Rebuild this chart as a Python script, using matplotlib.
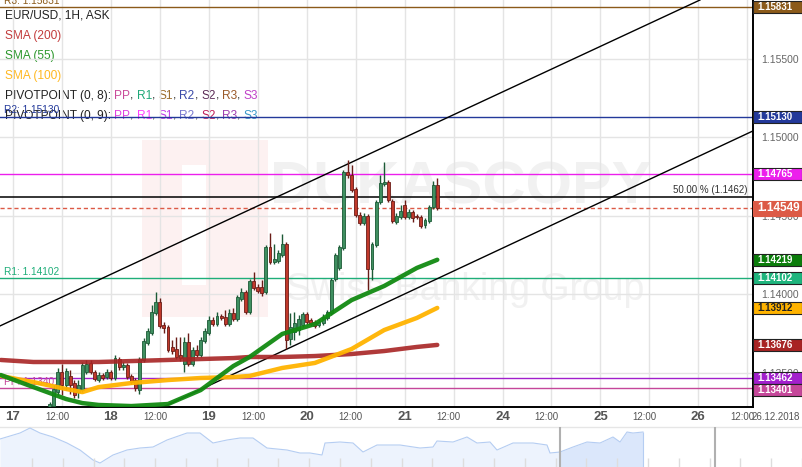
import matplotlib
matplotlib.use("Agg")
import matplotlib.pyplot as plt
import numpy as np
from matplotlib.patches import Rectangle
from matplotlib.transforms import blended_transform_factory

plt.rcParams["font.family"] = ["Liberation Sans", "DejaVu Sans"]

# EUR/USD 1H candles, hour index counted from 17 Dec 00:00 (weekend removed)
first_hour = 9
opens = [1.13261, 1.13286, 1.13375, 1.13503, 1.13420, 1.13478, 1.13433, 1.13375, 1.13388, 1.13503,
         1.13561, 1.13503, 1.13452, 1.13484, 1.13471, 1.13503, 1.13465, 1.13586, 1.13535, 1.13548,
         1.13478, 1.13452, 1.13388, 1.13580, 1.13688, 1.13752, 1.13880, 1.13950, 1.13803, 1.13790,
         1.13663, 1.13650, 1.13611, 1.13554, 1.13695, 1.13554, 1.13643, 1.13611, 1.13701, 1.13752,
         1.13835, 1.13809, 1.13860, 1.13854, 1.13809, 1.13880, 1.13841, 1.13969, 1.14013, 1.13886,
         1.14084, 1.14045, 1.14045, 1.14013, 1.14301, 1.14205, 1.14211, 1.14250, 1.14320, 1.13714,
         1.13758, 1.13771, 1.13803, 1.13873, 1.13835, 1.13822, 1.13803, 1.13816, 1.13848, 1.13880,
         1.14096, 1.14167, 1.14294, 1.14779, 1.14760, 1.14671, 1.14505, 1.14454, 1.14498, 1.14160,
         1.14313, 1.14588, 1.14703, 1.14715, 1.14594, 1.14460, 1.14492, 1.14569, 1.14492, 1.14524,
         1.14498, 1.14492, 1.14441, 1.14466, 1.14556, 1.14696]
highs = [1.13312, 1.13420, 1.13529, 1.13554, 1.13529, 1.13516, 1.13452, 1.13452, 1.13567, 1.13580,
         1.13580, 1.13516, 1.13503, 1.13497, 1.13522, 1.13516, 1.13611, 1.13599, 1.13567, 1.13561,
         1.13490, 1.13465, 1.13599, 1.13720, 1.13784, 1.13931, 1.14013, 1.13975, 1.13822, 1.13803,
         1.13707, 1.13726, 1.13726, 1.13726, 1.13752, 1.13663, 1.13675, 1.13726, 1.13784, 1.13860,
         1.13854, 1.13886, 1.13873, 1.13899, 1.13905, 1.13911, 1.13994, 1.14039, 1.14026, 1.14096,
         1.14141, 1.14065, 1.14090, 1.14313, 1.14390, 1.14320, 1.14281, 1.14384, 1.14333, 1.13880,
         1.13886, 1.13867, 1.13886, 1.13886, 1.13848, 1.13835, 1.13841, 1.13873, 1.13899, 1.14103,
         1.14262, 1.14313, 1.14792, 1.14856, 1.14824, 1.14683, 1.14524, 1.14518, 1.14511, 1.14333,
         1.14600, 1.14760, 1.14843, 1.14728, 1.14607, 1.14518, 1.14569, 1.14600, 1.14543, 1.14537,
         1.14511, 1.14505, 1.14486, 1.14569, 1.14722, 1.14741]
lows = [1.13248, 1.13273, 1.13356, 1.13356, 1.13388, 1.13363, 1.13337, 1.13337, 1.13375, 1.13490,
        1.13490, 1.13446, 1.13439, 1.13452, 1.13458, 1.13452, 1.13452, 1.13516, 1.13516, 1.13458,
        1.13427, 1.13382, 1.13363, 1.13567, 1.13675, 1.13739, 1.13867, 1.13784, 1.13752, 1.13631,
        1.13618, 1.13586, 1.13573, 1.13503, 1.13541, 1.13541, 1.13599, 1.13599, 1.13688, 1.13739,
        1.13797, 1.13797, 1.13835, 1.13797, 1.13797, 1.13829, 1.13829, 1.13956, 1.13873, 1.13873,
        1.14026, 1.14007, 1.13988, 1.14001, 1.14192, 1.14192, 1.14199, 1.14237, 1.13650, 1.13675,
        1.13707, 1.13739, 1.13790, 1.13809, 1.13797, 1.13784, 1.13790, 1.13803, 1.13835, 1.13867,
        1.14084, 1.14154, 1.14281, 1.14741, 1.14651, 1.14492, 1.14441, 1.14441, 1.14026, 1.14090,
        1.14301, 1.14575, 1.14690, 1.14588, 1.14454, 1.14447, 1.14479, 1.14479, 1.14479, 1.14460,
        1.14479, 1.14422, 1.14422, 1.14454, 1.14543, 1.14537]
closes = [1.13299, 1.13395, 1.13503, 1.13420, 1.13509, 1.13420, 1.13356, 1.13420, 1.13548, 1.13554,
          1.13503, 1.13458, 1.13484, 1.13465, 1.13503, 1.13465, 1.13592, 1.13535, 1.13548, 1.13471,
          1.13439, 1.13401, 1.13586, 1.13701, 1.13765, 1.13886, 1.13950, 1.13797, 1.13784, 1.13643,
          1.13637, 1.13599, 1.13592, 1.13695, 1.13554, 1.13643, 1.13611, 1.13707, 1.13765, 1.13835,
          1.13809, 1.13860, 1.13848, 1.13809, 1.13880, 1.13841, 1.13982, 1.14013, 1.13886, 1.14084,
          1.14039, 1.14020, 1.14007, 1.14301, 1.14205, 1.14224, 1.14262, 1.14320, 1.13707, 1.13790,
          1.13816, 1.13841, 1.13873, 1.13822, 1.13809, 1.13797, 1.13822, 1.13854, 1.13886, 1.14090,
          1.14250, 1.14301, 1.14779, 1.14760, 1.14664, 1.14505, 1.14454, 1.14498, 1.14160, 1.14320,
          1.14588, 1.14709, 1.14715, 1.14600, 1.14466, 1.14498, 1.14530, 1.14492, 1.14524, 1.14486,
          1.14492, 1.14435, 1.14473, 1.14556, 1.14696, 1.14549]

# moving averages (sampled)
sma_hours = [-3, 5, 13, 17, 21, 29, 38, 46, 54, 58, 66, 74, 83, 91, 99, 104]
sma200 = [1.13580, 1.13567, 1.13567, 1.13567, 1.13567, 1.13573, 1.13580, 1.13586,
          1.13592, 1.13599, 1.13599, 1.13605, 1.13618, 1.13637, 1.13663, 1.13676]
sma55 = [1.13484, 1.13407, 1.13331, 1.13305, 1.13293, 1.13286, 1.13299, 1.13388,
         1.13541, 1.13599, 1.13746, 1.13809, 1.13962, 1.14052, 1.14167, 1.14219]
sma100 = [1.13478, 1.13439, 1.13395, 1.13375, 1.13407, 1.13433, 1.13452, 1.13465,
          1.13471, 1.13478, 1.13529, 1.13561, 1.13650, 1.13771, 1.13848, 1.13912]

# channel anchors (hour, price)
upper_channel = [(-3.2, 1.13797), (168.4, 1.15876)]
lower_channel = [(36.8, 1.13280), (181.4, 1.15041)]

# pivot levels
levels = [("R3", 1.15831, "#8b5a1a"), ("R2", 1.15130, "#23399a"), (None, 1.14765, "#ec1fec"),
          ("R1", 1.14102, "#1fae79"), (None, 1.13462, "#a21fcc"), ("PP", 1.13401, "#c5479a")]
fib50 = 1.1462
last_price = 1.14549

price_ticks = [1.135, 1.140, 1.145, 1.150, 1.155]
tick_hours = list(range(0, 181, 12))
tick_labels = ["17", "12:00", "18", "12:00", "19", "12:00", "20", "12:00",
               "21", "12:00", "24", "12:00", "25", "12:00", "26", "12:00"]

# navigator overview
nav_pos = [0, 20, 30, 40, 53, 67, 80, 93, 100, 113, 127, 140, 153, 167, 187, 200, 213, 227, 240, 253,
           267, 287, 300, 310, 322, 325, 340, 353, 363, 377, 400, 420, 433, 437, 453, 467, 477, 490,
           497, 513, 533, 547, 550, 560, 573, 587, 600, 613, 620, 627, 633, 643]
nav_level = [28, 34, 39, 34, 30, 24, 17, 7, 4, 12, 17, 19, 20, 27, 34, 34, 24, 27, 29, 29,
             19, 17, 14, 14, 12, 24, 25, 24, 15, 22, 22, 19, 20, 26, 25, 30, 24, 25,
             17, 24, 24, 22, 14, 15, 20, 25, 24, 30, 25, 35, 34, 35]

W, H = 803, 467
fig = plt.figure(figsize=(W / 100, H / 100), dpi=100)

bg = fig.add_axes([0, 0, 1, 1], zorder=0)
bg.set_xlim(0, W)
bg.set_ylim(H, 0)
bg.axis("off")
bg.add_patch(Rectangle((142, 140), 126, 177, color="#fdf1f1", lw=0))
bg.add_patch(Rectangle((182, 165), 24, 120, color="white", lw=0))
bg.text(270, 204, "DUKASCOPY", fontsize=43, fontweight="bold", color="#f1f1f1",
        va="baseline")
bg.text(286, 300, "Swiss Banking Group", fontsize=27, color="#f1f1f1", va="baseline")
bg.axhline(427, color="#e6e6e6", lw=1)

ax = fig.add_axes([0, 60 / H, 753 / W, 407 / H], zorder=1)
ax.patch.set_alpha(0)
ax.set_xlim(-3.19, 181.4)
ax.set_ylim(1.13280, 1.15876)
px_price = (1.15876 - 1.13280) / 407

ax.set_xticks(tick_hours, labels=[])
ax.set_yticks(price_ticks, labels=[f"{p:.5f}" for p in price_ticks])
ax.yaxis.tick_right()
ax.tick_params(length=0)
ax.tick_params(axis="y", pad=6, labelsize=7.5, labelcolor="#666666")
ax.grid(color="#e4e4e4", lw=1)
ax.set_axisbelow(True)
for s in ["top", "left"]:
    ax.spines[s].set_visible(False)
for s in ["right", "bottom"]:
    ax.spines[s].set_color("black")
    ax.spines[s].set_linewidth(1.4)

# horizontal levels
lt = blended_transform_factory(ax.transAxes, ax.transData)
for name, val, col in levels:
    ax.axhline(val, color=col, lw=1, zorder=2)
    if name:
        ax.text(4 / 753, val + 1.5 * px_price, f"{name}: {val:.5f}", color=col, fontsize=7.3,
                transform=lt, va="bottom")
ax.axhline(fib50, color="black", lw=1.1, zorder=2)
ax.text(748 / 753, fib50 + 2 * px_price, "50.00 % (1.1462)", fontsize=7, color="#333333",
        ha="right", va="bottom", transform=lt)
ax.axhline(last_price, color="#dc5a46", lw=1, ls=(0, (3, 2)), zorder=2)

# channel
ax.axline(upper_channel[0], upper_channel[1], color="black", lw=1, zorder=3)
ax.axline(lower_channel[0], lower_channel[1], color="black", lw=1, zorder=3)

# candles
o = np.array(opens)
c = np.array(closes)
hours = first_hour + np.arange(len(o))
up = c >= o
edge = np.where(up, "#1c5a36", "#6a1c17")
face = np.where(up, "#3f8f60", "#c0392b")
ax.vlines(hours, lows, highs, colors=edge, lw=1, zorder=4)
ax.bar(hours, np.maximum(np.abs(c - o), 0.5 * px_price), bottom=np.minimum(o, c), width=0.72,
       color=face, edgecolor=edge, lw=0.6, zorder=5)

# SMAs
ax.plot(sma_hours, sma200, color="#a82424", lw=3.2, alpha=0.9, zorder=6, solid_capstyle="round")
ax.plot(sma_hours, sma100, color="#ffb300", lw=3.2, alpha=0.95, zorder=6, solid_capstyle="round")
ax.plot(sma_hours, sma55, color="#128a12", lw=3.2, alpha=0.95, zorder=6, solid_capstyle="round")

# x labels
xt = blended_transform_factory(ax.transData, ax.transAxes)
for hr, lab in zip(tick_hours, tick_labels):
    if lab == "12:00":
        ax.text(hr - 1.2, -10 / 407, lab, transform=xt, ha="center", va="center",
                fontsize=7, color="#555555")
    else:
        ax.text(hr, -10 / 407, lab, transform=xt, ha="center", va="center",
                fontsize=9.5, fontweight="bold", color="#555555")
ax.text(1 + 23 / 753, -10 / 407, "26.12.2018", transform=ax.transAxes, ha="center",
        va="center", fontsize=7, color="#555555")

# right badges
badges = [(1.15831, "#8b5a1a", "white"), (1.15130, "#23399a", "white"), (1.14765, "#ec1fec", "white"),
          (1.14219, "#0b7d0b", "white"), (1.14102, "#1eb57d", "white"), (1.13912, "#ffb300", "#222222"),
          (1.13676, "#a82424", "white"), (1.13462, "#a21fcc", "white"), (1.13401, "#c5479a", "white")]
for i, (val, fc, tc) in enumerate(badges):
    h = 12 * px_price
    yc = val
    if i > 0 and badges[i - 1][0] - val < h:
        yc = badges[i - 1][0] - h
    ax.add_patch(Rectangle((1.0, yc - h / 2), 49 / 753, h, transform=lt, facecolor=fc,
                           edgecolor="#222222", lw=0.8, clip_on=False, zorder=20))
    ax.text(1 + 4 / 753, yc, f"{val:.5f}", transform=lt, color=tc, fontsize=7,
            fontweight="bold", va="center", ha="left", zorder=21, clip_on=False)
h = 15 * px_price
ax.add_patch(Rectangle((1.0, last_price - h / 2), 50 / 753, h, transform=lt, facecolor="#dc5a46",
                       edgecolor="#dc5a46", lw=0.8, clip_on=False, zorder=20))
ax.text(1 + 4 / 753, last_price, f"{last_price:.5f}", transform=lt, color="white", fontsize=8.5,
        fontweight="bold", va="center", ha="left", zorder=21, clip_on=False)

# legend lines (top-left)
fig.canvas.draw()
renderer = fig.canvas.get_renderer()


def colored_line(y, parts, size=8.6):
    x = 5
    for txt, col in parts:
        t = bg.text(x, y, txt, color=col, fontsize=size, va="center", ha="left")
        x += t.get_window_extent(renderer).width


colored_line(15.7, [("EUR/USD, 1H, ASK", "#222222")])
colored_line(35.7, [("SMA (200)", "#c23b3b")])
colored_line(55.7, [("SMA (55)", "#2a962a")])
colored_line(75.7, [("SMA (100)", "#ffb820")])
sep = ", "
p8 = [("PP", "#c94a9a"), ("R1", "#1fa878"), ("S1", "#9a6b2a"), ("R2", "#3a4aa8"),
      ("S2", "#5a2a55"), ("R3", "#9a5a2a"), ("S3", "#c040c8")]
p9 = [("PP", "#e040e0"), ("R1", "#ff40ff"), ("S1", "#c040e8"), ("R2", "#7a7ad0"),
      ("S2", "#c0205a"), ("R3", "#a040b0"), ("S3", "#3a98c8")]
for y, head, toks in [(95.7, "PIVOTPOINT (0, 8): ", p8), (115.7, "PIVOTPOINT (0, 9): ", p9)]:
    parts = [(head, "#222222")]
    for i, (t, col) in enumerate(toks):
        parts.append((t, col))
        if i < len(toks) - 1:
            parts.append((sep, "#222222"))
    colored_line(y, parts)

# navigator
nav = fig.add_axes([0, 0, 1, 40 / H], zorder=1)
nav.set_xlim(0, W)
nav.set_ylim(0, 40)
nav.axis("off")
npos = np.array(nav_pos)
nlev = np.array(nav_level)
nav.fill_between(npos, nlev, color="#edf3fd", lw=0)
sel = npos >= 560
nav.fill_between(npos[sel], nlev[sel], color="#dbe7fb", lw=0)
nav.plot(npos, nlev, color="#b5cdf2", lw=0.8)
nav.vlines([npos[-1]], 0, nlev[-1], color="#b5cdf2", lw=0.8)
nav.vlines(np.arange(32, W, 30.8), 0, 9, color="#dddddd", lw=1)
nav.vlines([560, 715], 0, 40, color="#b0b0b0", lw=1.5)

fig.savefig("out.png", dpi=100)
